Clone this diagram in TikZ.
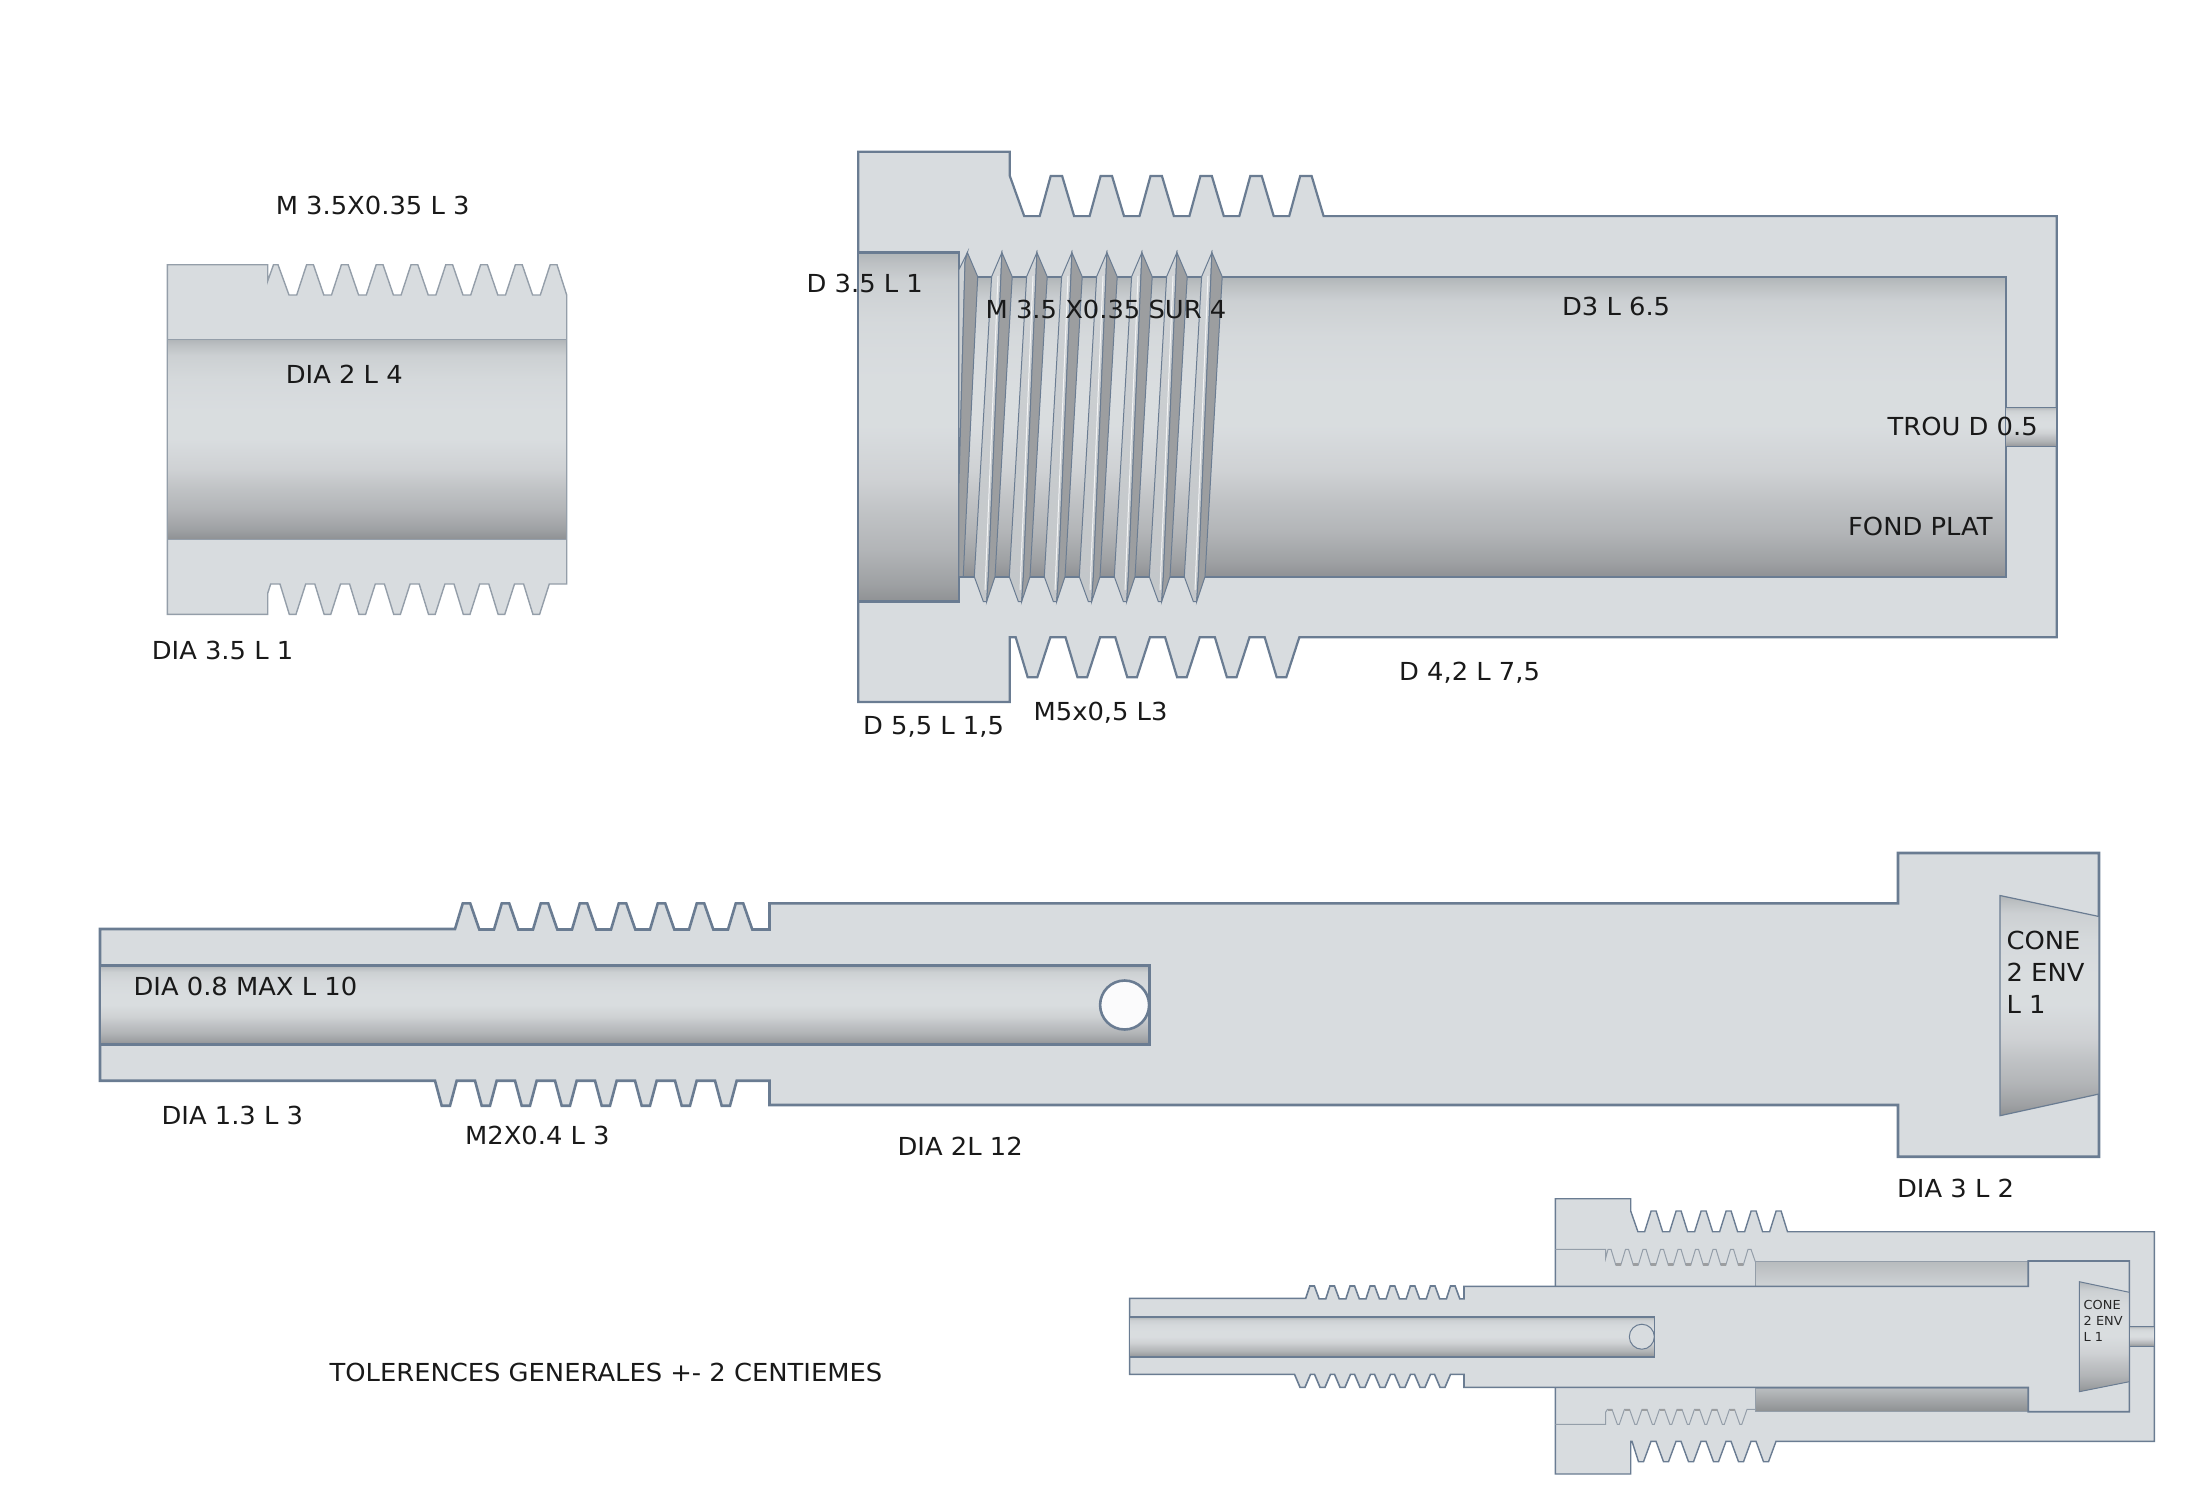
\documentclass[tikz,border=0pt]{standalone}
\usepackage{fontspec}
\setmainfont[FakeStretch=1.04]{DejaVu Sans}

\definecolor{bodycol}{HTML}{D8DCDF}
\definecolor{edgecol}{HTML}{6A7C92}
\definecolor{thincol}{HTML}{949EA9}
\definecolor{darkcol}{HTML}{9C9EA0}
\pgfdeclareverticalshading{borefade}{100bp}{rgb(0bp)=(.56,.57,.58); rgb(25bp)=(.56,.57,.58); rgb(27.5bp)=(.62,.63,.64); rgb(32.5bp)=(.70,.71,.72); rgb(37.5bp)=(.75,.76,.77); rgb(42.5bp)=(.81,.82,.83); rgb(50bp)=(.85,.865,.875); rgb(57.5bp)=(.85,.865,.875); rgb(65bp)=(.835,.85,.86); rgb(71bp)=(.80,.815,.825); rgb(73.5bp)=(.74,.755,.765); rgb(75bp)=(.69,.71,.72); rgb(100bp)=(.69,.71,.72)}
\tikzset{every picture/.style={line width=1.1pt},
  partbody/.style={fill=bodycol,draw=edgecol,line join=miter},
  partbore/.style={shade,shading=borefade,draw=edgecol},
  threadlight/.style={shade,top color=black!4!bodycol,bottom color=black!10!bodycol,draw=edgecol,line width=0.5pt},
  threaddark/.style={fill=darkcol,draw=edgecol,line width=0.5pt},
  crestline/.style={draw=white!70!bodycol,line width=0.5pt},
  label/.style={anchor=base west,inner sep=0pt,font=\fontsize{12.4}{14}\selectfont,text=black!90},
  labelsmall/.style={anchor=base west,inner sep=0pt,font=\fontsize{6.2}{8}\selectfont,text=black!85}}

\begin{document}
\begin{tikzpicture}[x=0.5pt,y=0.5pt,yscale=-1,xscale=1]
\useasboundingbox (0,0) rectangle (2200,1500);

%Shape: Polygon, bush section
\draw [partbody,draw=thincol,line width=0.7pt] (167.3,264.7) -- (267.7,264.7) -- (267.7,281) -- (273.5,264.7) -- (278,264.7) -- (289,295) -- (296.7,295) -- (306.6,264.7) -- (313.4,264.7) -- (323.8,295) -- (331.5,295) -- (341.4,264.7) -- (348.2,264.7) -- (358.6,295) -- (366.3,295) -- (376.2,264.7) -- (383,264.7) -- (393.4,295) -- (401.1,295) -- (411,264.7) -- (417.8,264.7) -- (428.2,295) -- (435.9,295) -- (445.8,264.7) -- (452.6,264.7) -- (463,295) -- (470.7,295) -- (480.6,264.7) -- (487.4,264.7) -- (497.8,295) -- (505.5,295) -- (515.4,264.7) -- (522.2,264.7) -- (532.6,295) -- (540.3,295) -- (550.2,264.7) -- (557,264.7) -- (566.7,295) -- (566.7,584) -- (549.3,584) -- (539.6,614.3) -- (532.9,614.3) -- (523.6,584) -- (514.5,584) -- (504.8,614.3) -- (498.1,614.3) -- (488.8,584) -- (479.7,584) -- (470,614.3) -- (463.3,614.3) -- (454,584) -- (444.9,584) -- (435.2,614.3) -- (428.5,614.3) -- (419.2,584) -- (410.1,584) -- (400.4,614.3) -- (393.7,614.3) -- (384.4,584) -- (375.3,584) -- (365.6,614.3) -- (358.9,614.3) -- (349.6,584) -- (340.5,584) -- (330.8,614.3) -- (324.1,614.3) -- (314.8,584) -- (305.7,584) -- (296,614.3) -- (289.3,614.3) -- (280,584) -- (270.7,584) -- (267.7,593.3) -- (267.7,614.3) -- (167.3,614.3) -- cycle ;
%Shape: Rectangle, bush bore
\path [partbore,draw=thincol,line width=0.7pt] (167.3,339.3) rectangle (566.7,539.3) ;

%Shape: Polygon, sleeve section
\draw [partbody] (858.3,151.8) -- (1009.8,151.8) -- (1009.8,175.9) -- (1024.2,216.1) -- (1039.7,216.1) -- (1050.7,175.9) -- (1062.1,175.9) -- (1074.1,216.1) -- (1089.6,216.1) -- (1100.6,175.9) -- (1112,175.9) -- (1124,216.1) -- (1139.5,216.1) -- (1150.5,175.9) -- (1161.9,175.9) -- (1173.9,216.1) -- (1189.4,216.1) -- (1200.4,175.9) -- (1211.8,175.9) -- (1223.8,216.1) -- (1239.3,216.1) -- (1250.3,175.9) -- (1261.7,175.9) -- (1273.7,216.1) -- (1289.2,216.1) -- (1300.2,175.9) -- (1311.6,175.9) -- (1323.6,216.1) -- (2056.7,216.1) -- (2056.7,637.3) -- (1299.3,637.3) -- (1286.3,677.3) -- (1276.7,677.3) -- (1264.7,637.3) -- (1249.5,637.3) -- (1236.5,677.3) -- (1226.9,677.3) -- (1214.9,637.3) -- (1199.7,637.3) -- (1186.7,677.3) -- (1177.1,677.3) -- (1165.1,637.3) -- (1149.9,637.3) -- (1136.9,677.3) -- (1127.3,677.3) -- (1115.3,637.3) -- (1100.1,637.3) -- (1087.1,677.3) -- (1077.5,677.3) -- (1065.5,637.3) -- (1050.3,637.3) -- (1037.3,677.3) -- (1027.7,677.3) -- (1015.7,637.3) -- (1009.8,637.3) -- (1009.8,702) -- (858.3,702) -- cycle ;
%Shape: Rectangle, sleeve bores
\path [partbore] (958.8,276.7) rectangle (2005.7,576.7) ;
\path [partbore,line width=0.7pt] (2005.7,407.3) rectangle (2056.7,446.7) ;
\path [partbore] (858.3,252.5) rectangle (958.8,601.5) ;
%Shape: Polygon, inner thread flanks
\path [threadlight] (958.8,270) -- (967.4,252.5) -- (965,262) -- (958.8,490) -- cycle ;
\path [threaddark] (965,262) -- (967.4,252.5) -- (977.7,276.7) -- (963.2,576.7) -- (958.8,576.7) -- (958.8,490) -- cycle ;
\path [threadlight] (991.6,276.7) -- (1001.9,252.5) -- (988.3,576.7) -- (986.7,601.5) -- (983.3,601.5) -- (974.3,576.7) -- cycle ;
\path [threaddark] (1001.9,252.5) -- (1012.2,276.7) -- (995,576.7) -- (986.7,601.5) -- (988.3,576.7) -- cycle ;
\path [threadlight] (1026.6,276.7) -- (1036.9,252.5) -- (1023.3,576.7) -- (1021.7,601.5) -- (1018.3,601.5) -- (1009.3,576.7) -- cycle ;
\path [threaddark] (1036.9,252.5) -- (1047.2,276.7) -- (1030,576.7) -- (1021.7,601.5) -- (1023.3,576.7) -- cycle ;
\path [threadlight] (1061.6,276.7) -- (1071.9,252.5) -- (1058.3,576.7) -- (1056.7,601.5) -- (1053.3,601.5) -- (1044.3,576.7) -- cycle ;
\path [threaddark] (1071.9,252.5) -- (1082.2,276.7) -- (1065,576.7) -- (1056.7,601.5) -- (1058.3,576.7) -- cycle ;
\path [threadlight] (1096.6,276.7) -- (1106.9,252.5) -- (1093.3,576.7) -- (1091.7,601.5) -- (1088.3,601.5) -- (1079.3,576.7) -- cycle ;
\path [threaddark] (1106.9,252.5) -- (1117.2,276.7) -- (1100,576.7) -- (1091.7,601.5) -- (1093.3,576.7) -- cycle ;
\path [threadlight] (1131.6,276.7) -- (1141.9,252.5) -- (1128.3,576.7) -- (1126.7,601.5) -- (1123.3,601.5) -- (1114.3,576.7) -- cycle ;
\path [threaddark] (1141.9,252.5) -- (1152.2,276.7) -- (1135,576.7) -- (1126.7,601.5) -- (1128.3,576.7) -- cycle ;
\path [threadlight] (1166.6,276.7) -- (1176.9,252.5) -- (1163.3,576.7) -- (1161.7,601.5) -- (1158.3,601.5) -- (1149.3,576.7) -- cycle ;
\path [threaddark] (1176.9,252.5) -- (1187.2,276.7) -- (1170,576.7) -- (1161.7,601.5) -- (1163.3,576.7) -- cycle ;
\path [threadlight] (1201.6,276.7) -- (1211.9,252.5) -- (1198.3,576.7) -- (1196.7,601.5) -- (1193.3,601.5) -- (1184.3,576.7) -- cycle ;
\path [threaddark] (1211.9,252.5) -- (1222.2,276.7) -- (1205,576.7) -- (1196.7,601.5) -- (1198.3,576.7) -- cycle ;
%Straight Lines, crest highlights
\draw [crestline] (998,276) -- (985,590) (1033,276) -- (1020,590) (1068,276) -- (1055,590) (1103,276) -- (1090,590) (1138,276) -- (1125,590) (1173,276) -- (1160,590) (1208,276) -- (1195,590) ;

%Shape: Polygon, pin section
\draw [partbody,line width=1.3pt] (100,929) -- (455,929) -- (462.8,903.3) -- (470.2,903.3) -- (479.3,929.5) -- (494,929.5) -- (501.8,903.3) -- (509.2,903.3) -- (518.3,929.5) -- (533,929.5) -- (540.8,903.3) -- (548.2,903.3) -- (557.3,929.5) -- (572,929.5) -- (579.8,903.3) -- (587.2,903.3) -- (596.3,929.5) -- (611,929.5) -- (618.8,903.3) -- (626.2,903.3) -- (635.3,929.5) -- (650,929.5) -- (657.8,903.3) -- (665.2,903.3) -- (674.3,929.5) -- (689,929.5) -- (696.8,903.3) -- (704.2,903.3) -- (713.3,929.5) -- (728,929.5) -- (735.8,903.3) -- (743.2,903.3) -- (752.3,929.5) -- (769.5,929.5) -- (769.5,903.3) -- (1898,903.3) -- (1898,853) -- (2099,853) -- (2099,1156.7) -- (1898,1156.7) -- (1898,1105) -- (769.5,1105) -- (769.5,1080.7) -- (736.7,1080.7) -- (730,1105.7) -- (721.7,1105.7) -- (715,1080.7) -- (696.7,1080.7) -- (690,1105.7) -- (681.7,1105.7) -- (675,1080.7) -- (656.7,1080.7) -- (650,1105.7) -- (641.7,1105.7) -- (635,1080.7) -- (616.7,1080.7) -- (610,1105.7) -- (601.7,1105.7) -- (595,1080.7) -- (576.7,1080.7) -- (570,1105.7) -- (561.7,1105.7) -- (555,1080.7) -- (536.7,1080.7) -- (530,1105.7) -- (521.7,1105.7) -- (515,1080.7) -- (496.7,1080.7) -- (490,1105.7) -- (481.7,1105.7) -- (475,1080.7) -- (456.7,1080.7) -- (450,1105.7) -- (441.7,1105.7) -- (435,1080.7) -- (100,1080.7) -- cycle ;
%Shape: Rectangle, pin bore
\path [partbore,line width=1.3pt] (100,965.7) rectangle (1149.6,1044.3) ;
%Shape: Circle
\draw [fill=white!90!bodycol,draw=edgecol,line width=1.3pt] (1124.6,1005) circle [radius=24.5] ;
%Shape: Polygon, cone
\path [partbore,line width=0.6pt] (2000,895.5) -- (2099,916.5) -- (2099,1094) -- (2000,1115.7) -- cycle ;

%Shape: Polygon, assembly outer sleeve
\draw [partbody,line width=0.7pt] (1555.4,1198.7) -- (1630.7,1198.7) -- (1630.7,1211) -- (1637.9,1231.7) -- (1644.6,1231.7) -- (1651.1,1211) -- (1656.1,1211) -- (1662.6,1231.7) -- (1669.6,1231.7) -- (1676.1,1211) -- (1681.1,1211) -- (1687.6,1231.7) -- (1694.6,1231.7) -- (1701.1,1211) -- (1706.1,1211) -- (1712.6,1231.7) -- (1719.6,1231.7) -- (1726.1,1211) -- (1731.1,1211) -- (1737.6,1231.7) -- (1744.6,1231.7) -- (1751.1,1211) -- (1756.1,1211) -- (1762.6,1231.7) -- (1769.6,1231.7) -- (1776.1,1211) -- (1781.1,1211) -- (1787.5,1231.7) -- (2154.3,1231.7) -- (2154.3,1441.3) -- (1776,1441.3) -- (1768.5,1461.7) -- (1763.5,1461.7) -- (1756,1441.3) -- (1751,1441.3) -- (1743.5,1461.7) -- (1738.5,1461.7) -- (1731,1441.3) -- (1726,1441.3) -- (1718.5,1461.7) -- (1713.5,1461.7) -- (1706,1441.3) -- (1701,1441.3) -- (1693.5,1461.7) -- (1688.5,1461.7) -- (1681,1441.3) -- (1676,1441.3) -- (1668.5,1461.7) -- (1663.5,1461.7) -- (1656,1441.3) -- (1651,1441.3) -- (1643.5,1461.7) -- (1638.5,1461.7) -- (1632,1441.3) -- (1630.7,1441.3) -- (1630.7,1474) -- (1555.4,1474) -- cycle ;
%Straight Lines, assembly inner threads
\draw [draw=thincol,line width=0.5pt] (1555.4,1249.3) -- (1605.7,1249.3) -- (1605.7,1258) -- (1608,1249.3) -- (1611,1249.3) -- (1615.8,1265) -- (1620.8,1265) -- (1625.5,1249.3) -- (1628.5,1249.3) -- (1633.3,1265) -- (1638.3,1265) -- (1643,1249.3) -- (1646,1249.3) -- (1650.8,1265) -- (1655.8,1265) -- (1660.5,1249.3) -- (1663.5,1249.3) -- (1668.3,1265) -- (1673.3,1265) -- (1678,1249.3) -- (1681,1249.3) -- (1685.8,1265) -- (1690.8,1265) -- (1695.5,1249.3) -- (1698.5,1249.3) -- (1703.3,1265) -- (1708.3,1265) -- (1713,1249.3) -- (1716,1249.3) -- (1720.8,1265) -- (1725.8,1265) -- (1730.5,1249.3) -- (1733.5,1249.3) -- (1738.3,1265) -- (1743.3,1265) -- (1748,1249.3) -- (1751,1249.3) -- (1755.4,1262) ;
\draw [draw=thincol,line width=0.5pt] (1555.4,1424.3) -- (1605.7,1424.3) -- (1605.7,1412) -- (1607.5,1409.3) -- (1612,1409.3) -- (1617.3,1424.3) -- (1619.3,1424.3) -- (1624.5,1409.3) -- (1629.5,1409.3) -- (1634.8,1424.3) -- (1636.8,1424.3) -- (1642,1409.3) -- (1647,1409.3) -- (1652.3,1424.3) -- (1654.3,1424.3) -- (1659.5,1409.3) -- (1664.5,1409.3) -- (1669.8,1424.3) -- (1671.8,1424.3) -- (1677,1409.3) -- (1682,1409.3) -- (1687.3,1424.3) -- (1689.3,1424.3) -- (1694.5,1409.3) -- (1699.5,1409.3) -- (1704.8,1424.3) -- (1706.8,1424.3) -- (1712,1409.3) -- (1717,1409.3) -- (1722.3,1424.3) -- (1724.3,1424.3) -- (1729.5,1409.3) -- (1734.5,1409.3) -- (1739.8,1424.3) -- (1741.8,1424.3) -- (1747,1409.3) -- (1755.4,1409.3) ;
%Straight Lines, root marks
\draw [draw=darkcol,line width=1.1pt] (1615.8,1264.5) -- (1620.8,1264.5) (1633.3,1264.5) -- (1638.3,1264.5) (1650.8,1264.5) -- (1655.8,1264.5) (1668.3,1264.5) -- (1673.3,1264.5) (1685.8,1264.5) -- (1690.8,1264.5) (1703.3,1264.5) -- (1708.3,1264.5) (1720.8,1264.5) -- (1725.8,1264.5) (1738.3,1264.5) -- (1743.3,1264.5) (1607.5,1410) -- (1612,1410) (1624.5,1410) -- (1629.5,1410) (1642,1410) -- (1647,1410) (1659.5,1410) -- (1664.5,1410) (1677,1410) -- (1682,1410) (1694.5,1410) -- (1699.5,1410) (1712,1410) -- (1717,1410) (1729.5,1410) -- (1734.5,1410) ;
%Shape: Rectangle, assembly gaps
\path [shade,top color=black!15!bodycol,bottom color=black!4!bodycol,draw=thincol,line width=0.5pt] (1755.4,1261) rectangle (2028.2,1286.7) ;
\path [shade,top color=black!14!bodycol,bottom color=black!34!bodycol,draw=thincol,line width=0.5pt] (1755.4,1388) rectangle (2028.2,1411) ;

%Shape: Polygon, assembly pin section
\draw [partbody,line width=0.8pt] (1129.6,1298.3) -- (1305.7,1298.3) -- (1309.8,1286) -- (1314.4,1286) -- (1319.1,1298.8) -- (1325.8,1298.8) -- (1329.9,1286) -- (1334.5,1286) -- (1339.2,1298.8) -- (1345.9,1298.8) -- (1350,1286) -- (1354.6,1286) -- (1359.3,1298.8) -- (1366,1298.8) -- (1370.1,1286) -- (1374.7,1286) -- (1379.4,1298.8) -- (1386.1,1298.8) -- (1390.2,1286) -- (1394.8,1286) -- (1399.5,1298.8) -- (1406.2,1298.8) -- (1410.3,1286) -- (1414.9,1286) -- (1419.6,1298.8) -- (1426.3,1298.8) -- (1430.4,1286) -- (1435,1286) -- (1439.7,1298.8) -- (1446.4,1298.8) -- (1450.5,1286) -- (1455.1,1286) -- (1459.8,1298.8) -- (1464,1298.8) -- (1464,1286.3) -- (2028.2,1286.3) -- (2028.2,1261) -- (2129.3,1261) -- (2129.3,1411.7) -- (2028.2,1411.7) -- (2028.2,1387.3) -- (1464,1387.3) -- (1464,1374.3) -- (1450.5,1374.3) -- (1445,1387.3) -- (1440,1387.3) -- (1434.5,1374.3) -- (1430.5,1374.3) -- (1425,1387.3) -- (1420,1387.3) -- (1414.5,1374.3) -- (1410.5,1374.3) -- (1405,1387.3) -- (1400,1387.3) -- (1394.5,1374.3) -- (1390.5,1374.3) -- (1385,1387.3) -- (1380,1387.3) -- (1374.5,1374.3) -- (1370.5,1374.3) -- (1365,1387.3) -- (1360,1387.3) -- (1354.5,1374.3) -- (1350.5,1374.3) -- (1345,1387.3) -- (1340,1387.3) -- (1334.5,1374.3) -- (1330.5,1374.3) -- (1325,1387.3) -- (1320,1387.3) -- (1314.5,1374.3) -- (1310.5,1374.3) -- (1305,1387.3) -- (1300,1387.3) -- (1294.5,1374.3) -- (1129.6,1374.3) -- cycle ;
%Shape: Rectangle, assembly bores
\path [partbore,line width=0.8pt] (1129.6,1317) rectangle (1654.6,1356.7) ;
\path [partbore,line width=0.5pt] (2129.3,1326.7) rectangle (2154.3,1346) ;
%Shape: Circle
\draw [fill=bodycol,draw=edgecol,line width=0.5pt] (1641.8,1336.7) circle [radius=12.5] ;
%Shape: Polygon, assembly cone
\path [partbore,line width=0.5pt] (2079.3,1281.7) -- (2129.3,1292.3) -- (2129.3,1381.7) -- (2079.3,1391.7) -- cycle ;

% Text Node
\node (bushthread) [label] at (274.7,214.3) {M 3.5X0.35 L 3};
% Text Node
\node (bushbore) [label] at (284.7,383.3) {DIA 2 L 4};
% Text Node
\node (bushhead) [label] at (150.7,659.3) {DIA 3.5 L 1};
% Text Node
\node (sleevecounter) [label] at (805.5,292.6) {D 3.5 L 1};
% Text Node
\node (sleevethreadin) [label] at (984.5,318.3) {M 3.5 X0.35 SUR 4};
% Text Node
\node (sleevebore) [label] at (1561,315) {D3 L 6.5};
% Text Node
\node (sleevehole) [label] at (1886.5,435.7) {TROU D 0.5};
% Text Node
\node (sleeveflat) [label] at (1847,535) {FOND PLAT};
% Text Node
\node (sleevebody) [label] at (1398,680.5) {D 4,2 L 7,5};
% Text Node
\node (sleevehead) [label] at (862,734) {D 5,5 L 1,5};
% Text Node
\node (sleevethread) [label] at (1032.5,720.5) {M5x0,5 L3};
% Text Node
\node (pinbore) [label] at (132.5,995) {DIA 0.8 MAX L 10};
% Text Node
\node (pinshaft) [label] at (160.5,1124.3) {DIA 1.3 L 3};
% Text Node
\node (pinthread) [label] at (464,1144) {M2X0.4 L 3};
% Text Node
\node (pinbody) [label] at (896.5,1155) {DIA 2L 12};
% Text Node
\node (pinhead) [label] at (1896,1197.7) {DIA 3 L 2};
% Text Node
\node (conea) [label] at (2005.5,949) {CONE};
% Text Node
\node (coneb) [label] at (2005.5,981.7) {2 ENV};
% Text Node
\node (conec) [label] at (2005.5,1013.3) {L 1};
% Text Node
\node (tolerances) [label] at (328.5,1381) {TOLERENCES GENERALES +- 2 CENTIEMES};
% Text Node
\node (smallconea) [labelsmall] at (2082.6,1309.3) {CONE};
% Text Node
\node (smallconeb) [labelsmall] at (2082.6,1325) {2 ENV};
% Text Node
\node (smallconec) [labelsmall] at (2082.6,1341) {L 1};

\end{tikzpicture}
\end{document}
